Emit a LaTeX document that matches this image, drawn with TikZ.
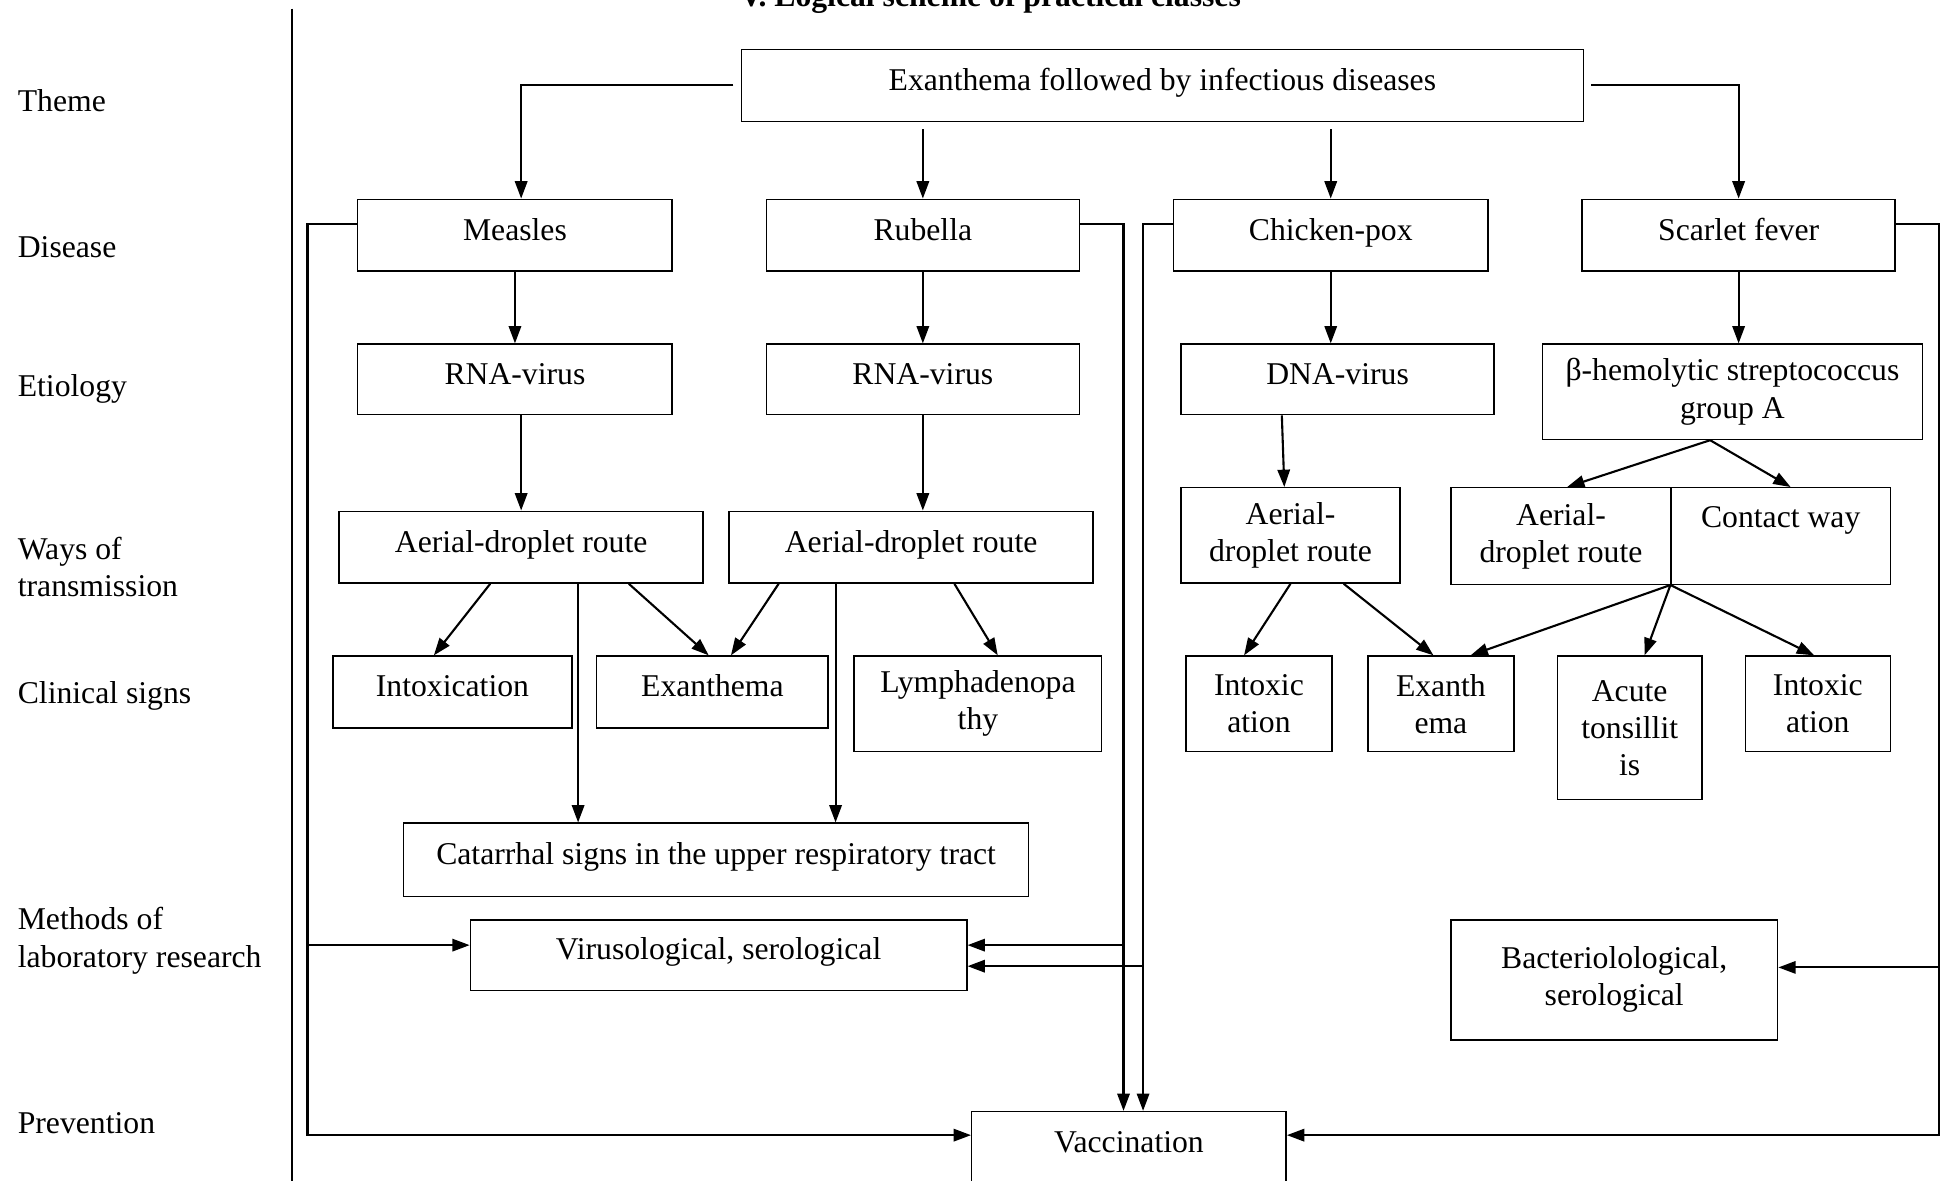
\documentclass[tikz,border=0pt]{standalone}
\usepackage{fontspec}
\setmainfont{Liberation Serif}
\usetikzlibrary{calc,arrows.meta,positioning}

\begin{document}
\begin{tikzpicture}[x=0.5pt, y=-0.5pt,
    every node/.style={font=\fontsize{12.8}{15}\selectfont},
    box/.style={draw, line width=0.6pt, align=center, inner sep=1pt, text height=8pt, text depth=4pt},
    mbox/.style={draw, line width=0.6pt, align=center, inner sep=1pt},
    lab/.style={anchor=west, align=left, inner sep=0pt},
    arr/.style={line width=0.85pt, -{Triangle[length=7pt,width=5pt]}}]

  % page frame, the title is cut by the top edge
  \useasboundingbox (0,0) rectangle (1568,954);
  \clip (0,0) rectangle (1568,954);
  \node[font=\fontsize{12.8}{15}\selectfont\bfseries, anchor=base] (title) at (800,5) {V. Logical scheme of practical classes};

  % Left column
  \draw[line width=0.6pt] (236,7) -- (236,954);
  \node[lab] (lTheme) at (14,81) {Theme};
  \node[lab] (lDisease) at (14,200) {Disease};
  \node[lab] (lEtio) at (14,314) {Etiology};
  \node[lab] (lWays) at (14,458) {Ways of\\transmission};
  \node[lab] (lClin) at (14,562) {Clinical signs};
  \node[lab] (lMeth) at (14,760) {Methods of\\laboratory research};
  \node[lab] (lPrev) at (14,907) {Prevention};

  % Theme
  \node[box, minimum width=340pt, minimum height=29pt] (top) at (939,69) {Exanthema followed by infectious diseases};

  % Disease
  \node[box, minimum width=127pt, minimum height=29pt] (measles) at (416,190) {Measles};
  \node[box, minimum width=126.5pt, minimum height=29pt] (rubella) at (745.5,190) {Rubella};
  \node[box, minimum width=127pt, minimum height=29pt] (chpox) at (1075,190) {Chicken-pox};
  \node[box, minimum width=126.5pt, minimum height=29pt] (scarlet) at (1404.5,190) {Scarlet fever};

  % Etiology
  \node[box, minimum width=127pt, minimum height=28.5pt] (rnaM) at (416,306.5) {RNA-virus};
  \node[box, minimum width=126.5pt, minimum height=28.5pt] (rnaR) at (745.5,306.5) {RNA-virus};
  \node[box, minimum width=126.5pt, minimum height=28.5pt] (dna) at (1080.5,306.5) {DNA-virus};
  \node[mbox, minimum width=153.5pt, minimum height=38.5pt] (strep) at (1399.5,316.5) {β-hemolytic streptococcus\\group A};

  % Ways of transmission
  \node[box, minimum width=147pt, minimum height=29pt] (adrM) at (421,442) {Aerial-droplet route};
  \node[box, minimum width=147pt, minimum height=29pt] (adrR) at (736,442) {Aerial-droplet route};
  \node[mbox, minimum width=88.5pt, minimum height=38.5pt] (adrC) at (1042.5,432.5) {Aerial-\\droplet route};
  \node[mbox, minimum width=89pt, minimum height=39pt] (adrS) at (1261,433) {Aerial-\\droplet route};
  \node[mbox, minimum width=88.5pt, minimum height=39pt] (contact) at (1438.5,433) {Contact way\\\mbox{}};

  % Clinical signs
  \node[box, minimum width=96.5pt, minimum height=29pt] (intoxM) at (365.5,559) {Intoxication};
  \node[box, minimum width=93.5pt, minimum height=29pt] (exanM) at (575.5,559) {Exanthema};
  \node[mbox, minimum width=100pt, minimum height=38.5pt] (lymph) at (790,568.5) {Lymphadenopa\\thy};
  \node[mbox, minimum width=59pt, minimum height=38.5pt] (intoxC) at (1017,568.5) {Intoxic\\ation};
  \node[mbox, minimum width=59pt, minimum height=38.5pt] (exanC) at (1164,568.5) {Exanth\\ema};
  \node[mbox, minimum width=58.5pt, minimum height=58pt] (tonsil) at (1316.5,588) {Acute\\tonsillit\\is};
  \node[mbox, minimum width=58.5pt, minimum height=38.5pt] (intoxS) at (1468.5,568.5) {Intoxic\\ation};
  \node[box, minimum width=252.5pt, minimum height=29.5pt] (catarrh) at (578.5,694.5) {Catarrhal signs in the upper respiratory tract};

  % Methods of laboratory research
  \node[box, minimum width=200.5pt, minimum height=28.5pt] (viro) at (580.5,771.5) {Virusological, serological};
  \node[mbox, minimum width=132pt, minimum height=48.5pt] (bacterio) at (1304,791.5) {Bacteriolological,\\serological};

  % Prevention
  \node[box, minimum width=127pt, minimum height=29pt] (vacc) at (912,927) {Vaccination};

  % theme -> diseases
  \draw[arr, shorten <=3pt] (top.west) -| ($(measles.north)+(5,0)$);
  \draw[arr, shorten <=3pt] (rubella.north |- top.south) -- (rubella.north);
  \draw[arr, shorten <=3pt] (chpox.north |- top.south) -- (chpox.north);
  \draw[arr, shorten <=3pt] (top.east) -| (scarlet.north);

  % disease -> etiology
  \draw[arr] (measles) -- (rnaM);
  \draw[arr] (rubella) -- (rnaR);
  \draw[arr] (chpox.south) -- (chpox.south |- dna.north);
  \draw[arr] (scarlet.south) -- (scarlet.south |- strep.north);

  % etiology -> ways of transmission
  \draw[arr] (adrM.north |- rnaM.south) -- (adrM.north);
  \draw[arr] (rnaR.south) -- (rnaR.south |- adrR.north);
  \draw[arr] ($(dna.south)+(-45,0)$) -- ($(adrC.north)+(-5,0)$);
  \coordinate (sp) at ($(strep.south)+(-18,0)$);
  \draw[arr] (sp) -- ($(adrS.north)+(5,0)$);
  \draw[arr] (sp) -- ($(contact.north)+(8,0)$);

  % ways of transmission -> clinical signs
  \draw[arr] ($(adrM.south)+(-25,0)$) -- ($(intoxM.north)+(-15,0)$);
  \draw[arr] ($(adrM.south)+(87,0)$) -- ($(exanM.north)+(-3,0)$);
  \draw[arr] ($(adrR.south)+(-107,0)$) -- ($(exanM.north)+(15,0)$);
  \draw[arr] ($(adrR.south)+(35,0)$) -- ($(lymph.north)+(16,0)$);
  \draw[arr] ($(adrM.south)+(46,0)$) coordinate (cm) -- (cm |- catarrh.north);
  \draw[arr] ($(adrR.south)+(-61,0)$) coordinate (cr) -- (cr |- catarrh.north);
  \draw[arr] (adrC.south) -- ($(intoxC.north)+(-12,0)$);
  \draw[arr] ($(adrC.south)+(43,0)$) -- ($(exanC.north)+(-6,0)$);
  \draw[arr] (contact.south west) -- ($(exanC.north)+(24,0)$);
  \draw[arr] (contact.south west) -- ($(tonsil.north)+(12,0)$);
  \draw[arr] (contact.south west) -- ($(intoxS.north)+(-3,0)$);

  % disease -> laboratory research and prevention
  \draw[arr] ([yshift=4.5pt]measles.west) -- ++(-40,0) coordinate (ml) |- ([yshift=5pt]vacc.west);
  \draw[arr] ([yshift=4pt]viro.west -| ml) -- ([yshift=4pt]viro.west);
  \draw[arr] ([yshift=4.5pt]rubella.east) -- ++(35,0) coordinate (rr) -- (rr |- vacc.north);
  \draw[arr] ([yshift=4pt]viro.east -| rr) -- ([yshift=4pt]viro.east);
  \draw[arr] ([yshift=4.5pt]chpox.west) -- ++(-24,0) coordinate (cl) -- (cl |- vacc.north);
  \draw[arr] ([yshift=-4.5pt]viro.east -| cl) -- ([yshift=-4.5pt]viro.east);
  \draw[arr] ([yshift=4.5pt]scarlet.east) -- ++(35,0) coordinate (sr) |- ([yshift=5pt]vacc.east);
  \draw[arr] ([yshift=5pt]bacterio.east -| sr) -- ([yshift=5pt]bacterio.east);
\end{tikzpicture}
\end{document}
